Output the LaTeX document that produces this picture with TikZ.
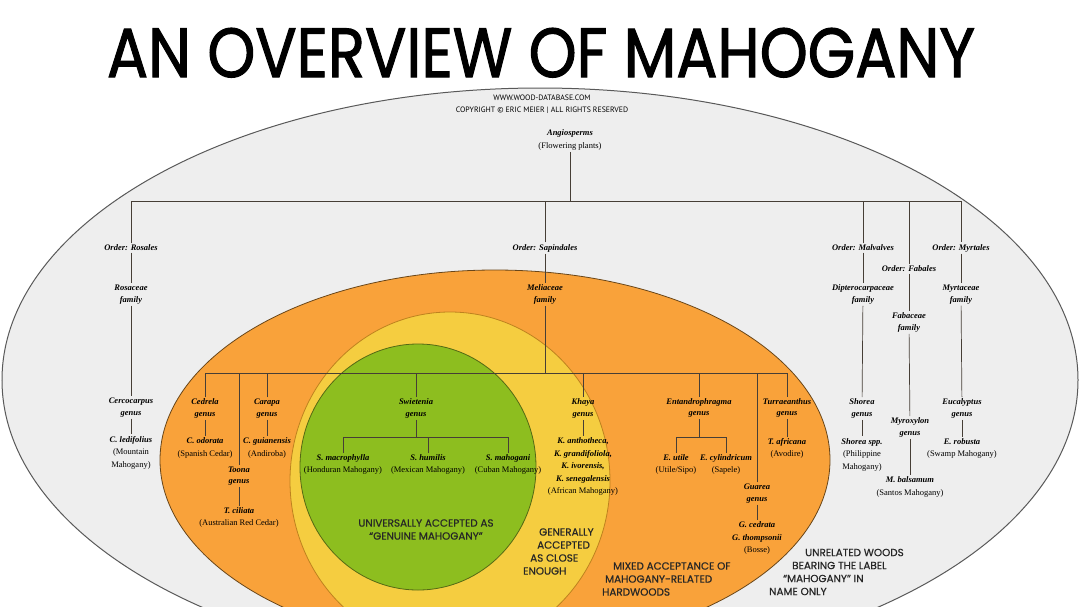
\documentclass[tikz,border=0pt]{standalone}
\usepackage{fontspec}
\setmainfont{Liberation Serif}
\newfontfamily\titlefont[FakeBold=1.6]{Poppins}
\newfontfamily\zonefont[FakeBold=0.6]{Poppins}
\newfontfamily\headfont{PT Sans}
\usepackage{graphicx}
\usetikzlibrary{positioning}
\definecolor{greybg}{RGB}{238,238,238}
\definecolor{orangebg}{RGB}{249,162,58}
\definecolor{yellowbg}{RGB}{245,205,64}
\definecolor{greenbg}{RGB}{141,190,31}
\definecolor{treeline}{RGB}{70,62,54}
\newcommand{\tax}[1]{\textbf{\textit{#1}}}
\newcommand{\labelfont}{\fontsize{8.5}{12.5}\selectfont}
\newcommand{\capsfont}{\zonefont\fontsize{10.4}{13}\selectfont}

\begin{document}
\begin{tikzpicture}[x=1pt,y=-1pt,
  taxon/.style={align=center,font=\fontsize{8.5}{11.5}\selectfont\bfseries\itshape},
  headtxt/.style={font=\headfont\fontsize{7.8}{8}\selectfont,inner sep=0pt},
  zonetxt/.style={font=\capsfont,inner sep=0pt,text=black!85}]
\useasboundingbox (0,0) rectangle (1080,606);
\fill[white] (0,0) rectangle (1080,606);

\begin{scope}
	\clip (0,0) rectangle (1080,606);
	\filldraw[fill=greybg,draw=black!65,line width=1pt] (540,380) ellipse [x radius=538pt, y radius=292pt];
	\filldraw[fill=orangebg,draw={rgb,255:red,105;green,70;blue,25},line width=0.8pt] (495,460) ellipse [x radius=335pt, y radius=190pt];
	\filldraw[fill=yellowbg,draw={rgb,255:red,190;green,130;blue,30},line width=0.8pt] (450,481) ellipse [x radius=160pt, y radius=169pt];
	\filldraw[fill=greenbg,draw={rgb,255:red,85;green,105;blue,20},line width=0.8pt] (418,467) ellipse [x radius=118pt, y radius=123pt];
\end{scope}

\node[anchor=base,inner sep=0pt] (title) at (541,77) {\resizebox{868pt}{49pt}{\titlefont AN OVERVIEW OF MAHOGANY}};
\node[headtxt] (web) at (542,98) {WWW.WOOD-DATABASE.COM};
\node[headtxt] (copy) at (542,110.5) {COPYRIGHT © ERIC MEIER | ALL RIGHTS RESERVED};

\begin{scope}[every node/.style={align=center,inner sep=1.5pt,font=\labelfont}]
	\node (angio) at (570,140) {\tax{Angiosperms}\\(Flowering plants)};
	% orders
	\node[taxon] (rosales) at (131,248) {Order: Rosales};
	\node[taxon] (sapind) at (545,248) {Order: Sapindales};
	\node[taxon] (malv) at (863,248) {Order: Malvalves};
	\node[taxon] (fabal) at (909,269) {Order: Fabales};
	\node[taxon] (myrt) at (961,248) {Order: Myrtales};
	% families
	\node[taxon] (rosac) at (131,294.5) {Rosaceae\\family};
	\node[taxon] (melia) at (545,294.5) {Meliaceae\\family};
	\node[taxon] (diptero) at (863,294.5) {Dipterocarpaceae\\family};
	\node[taxon] (fabac) at (909,322.5) {Fabaceae\\family};
	\node[taxon] (myrtac) at (961,294.5) {Myrtaceae\\family};
	% genera
	\node[taxon] (cercoc) at (131,407.5) {Cercocarpus\\genus};
	\node[taxon] (cedrela) at (205,408.5) {Cedrela\\genus};
	\node[taxon] (toona) at (239,476) {Toona\\genus};
	\node[taxon] (carapa) at (267,408.5) {Carapa\\genus};
	\node[taxon] (swiet) at (416,408.5) {Swietenia\\genus};
	\node[taxon] (khaya) at (583,408.5) {Khaya\\genus};
	\node[taxon] (entandro) at (699,408) {Entandrophragma\\genus};
	\node[taxon] (guarea) at (757,493.5) {Guarea\\genus};
	\node[taxon] (turra) at (787,408) {Turraeanthus\\genus};
	\node[taxon] (shorea) at (862,408.5) {Shorea\\genus};
	\node[taxon] (myrox) at (910,427.5) {Myroxylon\\genus};
	\node[taxon] (eucal) at (962,408.5) {Eucalyptus\\genus};
	% species
	\node (cledi) at (131,452.5) {\tax{C. ledifolius}\\(Mountain\\Mahogany)};
	\node (codor) at (205,448) {\tax{C. odorata}\\(Spanish Cedar)};
	\node (cguian) at (267,448) {\tax{C. guianensis}\\(Andiroba)};
	\node (tcil) at (239,517.5) {\tax{T. ciliata}\\(Australian Red Cedar)};
	\node (smacro) at (343,464.5) {\tax{S. macrophylla}\\(Honduran Mahogany)};
	\node (shum) at (428,464.5) {\tax{S. humilis}\\(Mexican Mahogany)};
	\node (smah) at (508,464.5) {\tax{S. mahogani}\\(Cuban Mahogany)};
	\node (kspp) at (583,466.5) {\tax{K. anthotheca,}\\\tax{K. grandifoliola,}\\\tax{K. ivorensis,}\\\tax{K. senegalensis}\\(African Mahogany)};
	\node (eutile) at (676,464.5) {\tax{E. utile}\\(Utile/Sipo)};
	\node (ecyl) at (726,464.5) {\tax{E. cylindricum}\\(Sapele)};
	\node (gced) at (757,538) {\tax{G. cedrata}\\\tax{G. thompsonii}\\(Bosse)};
	\node (tafr) at (787,448.5) {\tax{T. africana}\\(Avodire)};
	\node (shspp) at (862,454.5) {\tax{Shorea spp.}\\(Philippine\\Mahogany)};
	\node (mbals) at (910,487) {\tax{M. balsamum}\\(Santos Mahogany)};
	\node (erob) at (962,448.5) {\tax{E. robusta}\\(Swamp Mahogany)};
\end{scope}

\begin{scope}[draw=treeline,line width=0.7pt]
	\coordinate (topbar) at (570,201);
	\coordinate (melbar) at (545,373);
	\coordinate (swbar) at (416,437);
	\coordinate (enbar) at (699,437);
	\draw (angio) -- (topbar);
	\draw (rosales) |- (myrt |- topbar) -- (myrt);
	\draw (sapind) -- (sapind |- topbar);
	\draw (malv) -- (malv |- topbar);
	\draw (fabal) -- (fabal |- topbar);
	\draw (rosales) -- (rosac);
	\draw (sapind) -- (melia);
	\draw (malv) -- (diptero);
	\draw (fabal) -- (fabac);
	\draw (myrt) -- (myrtac);
	\draw (rosac) -- (cercoc);
	\draw (cercoc) -- (cledi);
	\draw (diptero) -- (shorea);
	\draw (shorea) -- (shspp);
	\draw (fabac) -- (myrox);
	\draw (myrox) -- (mbals);
	\draw (myrtac) -- (eucal);
	\draw (eucal) -- (erob);
	% Meliaceae
	\draw (melia) -- (melbar);
	\draw (cedrela) |- (turra |- melbar) -- (turra);
	\draw (toona) -- (toona |- melbar);
	\draw (carapa) -- (carapa |- melbar);
	\draw (swiet) -- (swiet |- melbar);
	\draw (khaya) -- (khaya |- melbar);
	\draw (entandro) -- (entandro |- melbar);
	\draw (guarea) -- (guarea |- melbar);
	\draw (cedrela) -- (codor);
	\draw (carapa) -- (cguian);
	\draw (toona) -- (tcil);
	\draw (khaya) -- (kspp);
	\draw (guarea) -- (gced);
	\draw (turra) -- (tafr);
	\draw (swiet) -- (swbar);
	\draw (smacro) |- (smah |- swbar) -- (smah);
	\draw (shum) -- (shum |- swbar);
	\draw (entandro) -- (enbar);
	\draw (eutile) |- (ecyl |- enbar) -- (ecyl);
\end{scope}

% zone captions
\node[zonetxt,align=center] (genuine) at (426,529.5) {UNIVERSALLY ACCEPTED AS\\“GENUINE MAHOGANY”};
\node[zonetxt,align=left,anchor=west] (close) at (523,551.5) {\hspace*{16pt}GENERALLY\\\hspace*{14pt}ACCEPTED\\\hspace*{7pt}AS CLOSE\\ENOUGH};
\node[zonetxt,align=left,anchor=west] (mixed) at (602,579) {\hspace*{11pt}MIXED ACCEPTANCE OF\\\hspace*{3pt}MAHOGANY-RELATED\\HARDWOODS};
\node[zonetxt,align=left,anchor=west] (unrel) at (769,572) {\hspace*{36pt}UNRELATED WOODS\\\hspace*{23pt}BEARING THE LABEL\\\hspace*{14pt}“MAHOGANY” IN\\NAME ONLY};
\end{tikzpicture}
\end{document}
